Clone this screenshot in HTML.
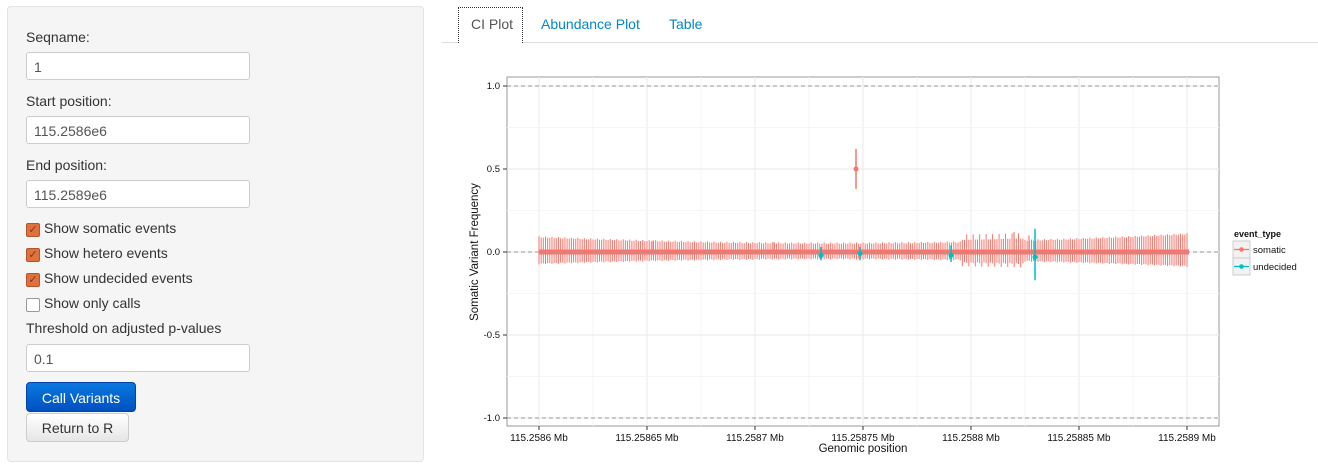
<!DOCTYPE html>
<html><head><meta charset="utf-8"><style>
body{margin:0;width:1318px;height:467px;background:#fff;font-family:"Liberation Sans",sans-serif;position:relative;overflow:hidden}
.side{position:absolute;left:7px;top:6px;width:415px;height:454px;background:#f5f5f5;border:1px solid #e3e3e3;border-radius:4px}
.lbl{position:absolute;left:18px;font-size:14px;color:#333}
.inp{position:absolute;left:18px;height:28px;background:#fff;border:1px solid #ccc;border-radius:3px;font-size:14px;color:#555;line-height:28px;padding-left:7px;box-sizing:border-box;width:224px}
.cb{position:absolute;left:18px;width:12px;height:12px;border-radius:2px;background:#e0703c;border:1px solid #b5552a;color:#7a3a1a;font-size:11px;line-height:12px;text-align:center}
.cb.off{background:#fff;border:1px solid #999}
.cbt{position:absolute;left:36px;font-size:14px;color:#333}
.btn{position:absolute;left:18px;border-radius:4px;font-size:14px;text-align:center;box-sizing:border-box}
.tab{position:absolute;top:16px;font-size:14px;color:#0088cc}
</style></head><body>
<div class="side">
<div class="lbl" style="top:22px">Seqname:</div>
<div class="inp" style="top:45px">1</div>
<div class="lbl" style="top:86px">Start position:</div>
<div class="inp" style="top:109px">115.2586e6</div>
<div class="lbl" style="top:150px">End position:</div>
<div class="inp" style="top:173px">115.2589e6</div>
<div class="cb" style="top:216px">✓</div><div class="cbt" style="top:213px">Show somatic events</div>
<div class="cb" style="top:241px">✓</div><div class="cbt" style="top:238px">Show hetero events</div>
<div class="cb" style="top:266px">✓</div><div class="cbt" style="top:263px">Show undecided events</div>
<div class="cb off" style="top:291px"></div><div class="cbt" style="top:288px">Show only calls</div>
<div class="lbl" style="top:313px">Threshold on adjusted p-values</div>
<div class="inp" style="top:337px">0.1</div>
<div class="btn" style="top:375px;width:110px;height:30px;line-height:30px;background:linear-gradient(#0a78e0,#0050c0);color:#fff;border:1px solid #0044aa">Call Variants</div>
<div class="btn" style="top:406px;width:103px;height:29px;line-height:29px;background:linear-gradient(#fff,#e6e6e6);color:#333;border:1px solid #ccc">Return to R</div>
</div>
<div style="position:absolute;left:442px;top:42px;width:876px;height:1px;background:#ddd"></div>
<div style="position:absolute;left:458px;top:7px;width:65px;height:36px;border:1px dotted #333;border-bottom:none;background:#fff;box-sizing:border-box"></div>
<div class="tab" style="left:471px;color:#555">CI Plot</div>
<div class="tab" style="left:541px">Abundance Plot</div>
<div class="tab" style="left:669px">Table</div>
<svg id="p" width="1318" height="467" style="position:absolute;left:0;top:0" font-family="Liberation Sans, sans-serif"></svg>
<script>
var s='';
var L=507,R=1219,T=77,B=426;
function X(v){return 539+v*2.16}function Y(f){return 252-f*166}
s+='<rect x="'+L+'" y="'+T+'" width="'+(R-L)+'" height="'+(B-T)+'" fill="#fff" stroke="#999" stroke-width="1"/>';
for(var i=0;i<=6;i++){var x=539+i*108;s+='<line x1="'+x+'" x2="'+x+'" y1="'+T+'" y2="'+B+'" stroke="#ececec" stroke-width="1.2"/>';if(i<6)s+='<line x1="'+(x+54)+'" x2="'+(x+54)+'" y1="'+T+'" y2="'+B+'" stroke="#f5f5f5"/>';
s+='<line x1="'+x+'" x2="'+x+'" y1="'+B+'" y2="'+(B+4)+'" stroke="#333"/><text x="'+x+'" y="'+(B+15)+'" font-size="10" text-anchor="middle" fill="#111">'+['115.2586','115.25865','115.2587','115.25875','115.2588','115.25885','115.2589'][i]+' Mb</text>';}
var yl=['1.0','0.5','0.0','-0.5','-1.0'];
for(var j=0;j<5;j++){var y=86+j*83;s+='<line x1="'+L+'" x2="'+R+'" y1="'+y+'" y2="'+y+'" stroke="#ececec" stroke-width="1.2"/>';if(j<4)s+='<line x1="'+L+'" x2="'+R+'" y1="'+(y+41.5)+'" y2="'+(y+41.5)+'" stroke="#f5f5f5"/>';
s+='<line x1="'+(L-4)+'" x2="'+L+'" y1="'+y+'" y2="'+y+'" stroke="#333"/><text x="'+(L-7)+'" y="'+(y+3)+'" font-size="9.5" text-anchor="end" fill="#111">'+yl[j]+'</text>';}
for(var k=0;k<=300;k+=1){var x=X(k);var t=k/300;var h=0.045+0.05*Math.pow(Math.abs(t-0.45)/0.55,2)+(k%3==0?0.006:0);var hi=h*1.12,lo=h*0.88;
if(k>195&&k<225){hi+=(k%3==0?0.04:0.015);lo+=(k%3==1?0.04:0.015);}
s+='<line x1="'+x+'" x2="'+x+'" y1="'+Y(hi)+'" y2="'+Y(-lo)+'" stroke="#f8766d" stroke-width="1"/>';}
s+='<line x1="539" x2="1189" y1="252" y2="252" stroke="#f8766d" stroke-width="5"/>';
s+='<line x1="'+L+'" x2="'+R+'" y1="86" y2="86" stroke="#999" stroke-dasharray="4,3"/><line x1="'+L+'" x2="'+R+'" y1="252" y2="252" stroke="#999" stroke-dasharray="4,3"/><line x1="'+L+'" x2="'+R+'" y1="418" y2="418" stroke="#999" stroke-dasharray="4,3"/>';
s+='<line x1="856" x2="856" y1="149" y2="189" stroke="#f8766d" stroke-width="1.5"/><circle cx="856" cy="169" r="2.5" fill="#f8766d"/>';
[[653,0.07],[774,0.06],[1029,0.1],[1014,0.12]].forEach(function(a){s+='<line x1="'+a[0]+'" x2="'+a[0]+'" y1="'+Y(a[1])+'" y2="252" stroke="#f8766d" stroke-width="1.2"/>';});
[[821,-0.02,0.03,-0.05],[860,-0.01,0.03,-0.05],[951,-0.02,0.04,-0.06],[1035,-0.03,0.14,-0.17]].forEach(function(a){s+='<line x1="'+a[0]+'" x2="'+a[0]+'" y1="'+Y(a[2])+'" y2="'+Y(a[3])+'" stroke="#00bfc4" stroke-width="1.5"/><circle cx="'+a[0]+'" cy="'+Y(a[1])+'" r="2.5" fill="#00bfc4"/>';});
s+='<text x="863" y="452" font-size="11.5" text-anchor="middle" fill="#111">Genomic position</text>';
s+='<text transform="translate(478,252) rotate(-90)" font-size="11.5" text-anchor="middle" fill="#111">Somatic Variant Frequency</text>';
s+='<text x="1234" y="237" font-size="9" font-weight="bold" fill="#111">event_type</text>';
s+='<rect x="1233" y="241" width="17" height="17" fill="#f2f2f2" stroke="#ccc"/><rect x="1233" y="258" width="17" height="17" fill="#f2f2f2" stroke="#ccc"/>';
s+='<line x1="1234" x2="1249" y1="249.5" y2="249.5" stroke="#f8766d" stroke-width="1.3"/><circle cx="1241.5" cy="249.5" r="2.3" fill="#f8766d"/>';
s+='<line x1="1234" x2="1249" y1="266.5" y2="266.5" stroke="#00bfc4" stroke-width="1.3"/><circle cx="1241.5" cy="266.5" r="2.3" fill="#00bfc4"/>';
s+='<text x="1253" y="253" font-size="9.5" fill="#111">somatic</text><text x="1253" y="270" font-size="9.5" fill="#111">undecided</text>';
document.getElementById('p').innerHTML=s;
</script>
</body></html>
